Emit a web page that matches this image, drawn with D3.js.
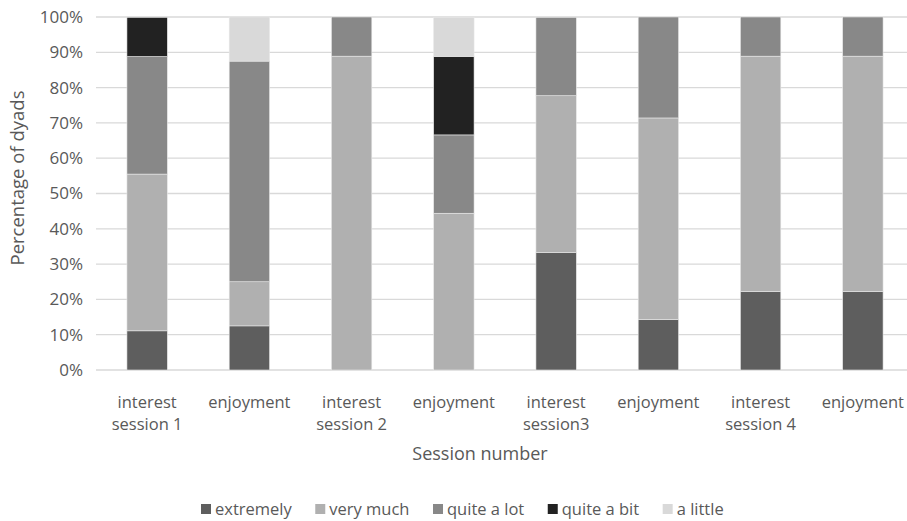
<!DOCTYPE html>
<html>
<head>
<meta charset="utf-8">
<script src="https://cdn.jsdelivr.net/npm/d3@7"></script>
<style>
  html, body { margin: 0; padding: 0; background: #fff; }
  svg { display: block; font-family: "Open Sans", "Noto Sans", sans-serif; }
</style>
</head>
<body>
<svg id="chart" width="907" height="521"></svg>
<script>
// Rating shares (% of dyads) per measure and session
const categories = [
  ["interest", "session 1"], ["enjoyment"],
  ["interest", "session 2"], ["enjoyment"],
  ["interest", "session3"], ["enjoyment"],
  ["interest", "session 4"], ["enjoyment"]
];
const seriesNames = ["extremely", "very much", "quite a lot", "quite a bit", "a little"];
const extremely = [11.1, 12.5, 0, 0, 33.3, 14.3, 22.2, 22.2];
const veryMuch  = [44.4, 12.5, 88.9, 44.4, 44.4, 57.1, 66.7, 66.7];
const quiteALot = [33.3, 62.5, 11.1, 22.2, 22.2, 28.6, 11.1, 11.1];
const quiteABit = [11.1, 0, 0, 22.2, 0, 0, 0, 0];
const aLittle   = [0, 12.5, 0, 11.1, 0, 0, 0, 0];
const yTicks = [0, 10, 20, 30, 40, 50, 60, 70, 80, 90, 100];
const colors = ["#5e5e5e", "#b0b0b0", "#888888", "#222222", "#d9d9d9"];

const seriesValues = [extremely, veryMuch, quiteALot, quiteABit, aLittle];
const rows = categories.map((c, i) => {
  const r = { key: i };
  seriesNames.forEach((s, j) => r[s] = seriesValues[j][i]);
  return r;
});

const svg = d3.select("#chart");
const plot = { left: 96, right: 914, top: 17, bottom: 370 };
const textColor = "#595959";

const x = d3.scaleBand()
  .domain(d3.range(categories.length))
  .range([plot.left, plot.right])
  .paddingInner(0.605).paddingOuter(0.3025);

const y = d3.scaleLinear().domain([0, 100]).range([plot.bottom, plot.top]);

// Horizontal gridlines
svg.append("g")
  .selectAll("line")
  .data(yTicks)
  .join("line")
  .attr("x1", plot.left).attr("x2", 907)
  .attr("y1", d => y(d)).attr("y2", d => y(d))
  .attr("stroke", "#d9d9d9").attr("stroke-width", 1.3);

// Y tick labels
svg.append("g")
  .selectAll("text")
  .data(yTicks)
  .join("text")
  .attr("x", 83).attr("y", d => y(d))
  .attr("dy", "0.35em")
  .attr("text-anchor", "end")
  .attr("font-size", 17)
  .attr("fill", textColor)
  .text(d => d + "%");

// Stacked bars
const stack = d3.stack().keys(seriesNames)(rows);
svg.append("g")
  .selectAll("g")
  .data(stack)
  .join("g")
  .attr("fill", (d, i) => colors[i])
  .selectAll("rect")
  .data(d => d)
  .join("rect")
  .attr("x", (d, i) => x(i))
  .attr("width", x.bandwidth())
  .attr("y", d => y(d[1]))
  .attr("height", d => y(d[0]) - y(d[1]))
  .attr("stroke", "#e8e8e8")
  .attr("stroke-width", 0.6);

// Category labels
const catG = svg.append("g");
categories.forEach((lines, i) => {
  const cx = x(i) + x.bandwidth() / 2;
  const t = catG.append("text")
    .attr("x", cx)
    .attr("y", 408)
    .attr("text-anchor", "middle")
    .attr("font-size", 16.5)
    .attr("fill", textColor);
  lines.forEach((ln, k) => {
    t.append("tspan")
      .attr("x", cx)
      .attr("dy", k === 0 ? 0 : 22)
      .text(ln);
  });
});

// Axis titles
svg.append("text")
  .attr("x", 480).attr("y", 460)
  .attr("text-anchor", "middle")
  .attr("font-size", 18)
  .attr("fill", textColor)
  .text("Session number");

svg.append("text")
  .attr("transform", "translate(24,178) rotate(-90)")
  .attr("text-anchor", "middle")
  .attr("font-size", 18.5)
  .attr("fill", textColor)
  .text("Percentage of dyads");

// Legend
const legend = svg.append("g");
let lx = 201;
seriesNames.forEach((name, i) => {
  legend.append("rect")
    .attr("x", lx).attr("y", 504)
    .attr("width", 10).attr("height", 10)
    .attr("fill", colors[i]);
  const t = legend.append("text")
    .attr("x", lx + 14).attr("y", 515)
    .attr("font-size", 16.5)
    .attr("fill", textColor)
    .text(name);
  lx += 14 + t.node().getComputedTextLength() + 23.5;
});
</script>
</body>
</html>
